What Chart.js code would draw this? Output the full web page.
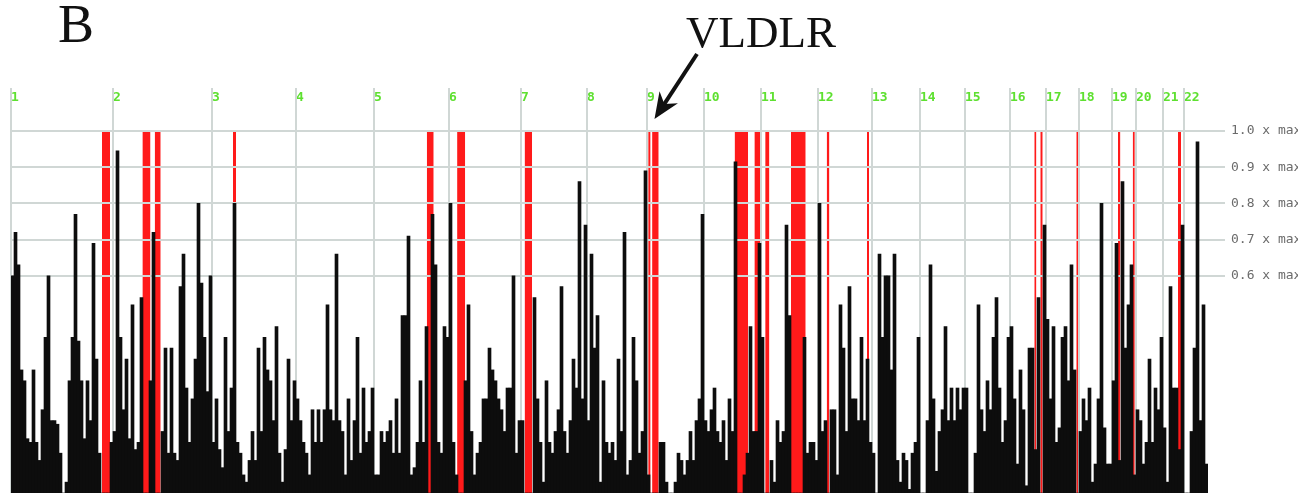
<!DOCTYPE html>
<html>
<head>
<meta charset="utf-8">
<title>Homozygosity scores - VLDLR</title>
<script src="https://cdn.jsdelivr.net/npm/chart.js@4.4.1/dist/chart.umd.min.js"></script>
<style>
  html, body { margin: 0; padding: 0; background: #fff; }
  #wrap { width: 1298px; height: 493px; overflow: hidden; }
</style>
</head>
<body>
<div id="wrap"><canvas id="chart" width="1298" height="493"></canvas></div>
<script>
// chromosome labels along the top
const chromNames = ['1', '2', '3', '4', '5', '6', '7', '8', '9', '10', '11',
  '12', '13', '14', '15', '16', '17', '18', '19', '20', '21', '22'];

// genome-wide score per marker bin, as a fraction of the maximum, one list per chromosome
const chr1 = [0.6, 0.72, 0.63, 0.34, 0.31, 0.15, 0.14, 0.34, 0.14, 0.09, 0.23, 0.43, 0.6, 0.2, 0.2, 0.19, 0.11, 0, 0.03, 0.31, 0.43, 0.77, 0.42, 0.31, 0.15, 0.31, 0.2, 0.69, 0.37, 0.11, 0, 0, 0, 0.14];
const chr2 = [0.17, 0.945, 0.43, 0.23, 0.37, 0.15, 0.52, 0.12, 0.14, 0.54, 0, 0, 0.31, 0.72, 0, 0, 0.17, 0.4, 0.11, 0.4, 0.11, 0.09, 0.57, 0.66, 0.29, 0.14, 0.26, 0.37, 0.8, 0.58, 0.43, 0.28, 0.6];
const chr3 = [0.14, 0.26, 0.12, 0.07, 0.43, 0.17, 0.29, 0.8, 0.14, 0.11, 0.05, 0.03, 0.09, 0.17, 0.09, 0.4, 0.17, 0.43, 0.34, 0.31, 0.2, 0.46, 0.11, 0.03, 0.12, 0.37, 0.2, 0.31];
const chr4 = [0.26, 0.2, 0.14, 0.11, 0.05, 0.23, 0.14, 0.23, 0.14, 0.23, 0.52, 0.23, 0.2, 0.66, 0.2, 0.17, 0.05, 0.26, 0.09, 0.2, 0.43, 0.11, 0.29, 0.14, 0.17, 0.29];
const chr5 = [0.05, 0.05, 0.17, 0.14, 0.17, 0.2, 0.11, 0.26, 0.11, 0.49, 0.49, 0.71, 0.05, 0.07, 0.14, 0.31, 0.14, 0.46, 0, 0.77, 0.63, 0.14, 0.11, 0.46, 0.43];
const chr6 = [0.8, 0.14, 0.05, 0, 0, 0.31, 0.52, 0.17, 0.05, 0.11, 0.14, 0.26, 0.26, 0.4, 0.34, 0.31, 0.26, 0.23, 0.17, 0.29, 0.29, 0.6, 0.11, 0.2];
const chr7 = [0.2, 0, 0, 0, 0.54, 0.26, 0.14, 0.03, 0.31, 0.14, 0.11, 0.17, 0.23, 0.57, 0.17, 0.11, 0.2, 0.37, 0.29, 0.86, 0.26, 0.74];
const chr8 = [0.2, 0.66, 0.4, 0.49, 0.03, 0.31, 0.14, 0.11, 0.14, 0.09, 0.37, 0.17, 0.72, 0.05, 0.09, 0.43, 0.31, 0.11, 0.17, 0.89];
const chr9 = [0.05, 0, 0, 0, 0.14, 0.14, 0.03, 0, 0, 0.03, 0.11, 0.09, 0.05, 0.09, 0.17, 0.09, 0.2, 0.26, 0.77];
const chr10 = [0.2, 0.17, 0.23, 0.29, 0.17, 0.14, 0.2, 0.09, 0.26, 0.17, 0.915, 0, 0, 0.05, 0.11, 0.46, 0.17, 0.17, 0.69];
const chr11 = [0.43, 0, 0, 0.09, 0.03, 0.2, 0.14, 0.17, 0.74, 0.49, 0, 0, 0, 0, 0.43, 0.11, 0.14, 0.14, 0.09];
const chr12 = [0.8, 0.17, 0.2, 0, 0.23, 0.23, 0.05, 0.52, 0.4, 0.17, 0.57, 0.26, 0.26, 0.2, 0.43, 0.2, 0.37, 0.14];
const chr13 = [0.11, 0, 0.66, 0.43, 0.6, 0.6, 0.34, 0.66, 0.09, 0.03, 0.11, 0.09, 0.01, 0.11, 0.14, 0.43];
const chr14 = [0, 0, 0.2, 0.63, 0.26, 0.06, 0.17, 0.23, 0.46, 0.2, 0.29, 0.2, 0.29, 0.23, 0.29];
const chr15 = [0.29, 0, 0, 0.11, 0.52, 0.23, 0.17, 0.31, 0.23, 0.43, 0.54, 0.29, 0.14, 0.2, 0.43];
const chr16 = [0.46, 0.26, 0.08, 0.34, 0.23, 0.02, 0.4, 0.4, 0.12, 0.54, 0, 0.74];
const chr17 = [0.48, 0.26, 0.46, 0.14, 0.18, 0.43, 0.46, 0.31, 0.63, 0.34, 0];
const chr18 = [0.17, 0.26, 0.2, 0.29, 0.03, 0.08, 0.26, 0.8, 0.18, 0.08, 0.08];
const chr19 = [0.31, 0.69, 0.09, 0.86, 0.4, 0.52, 0.63, 0.05];
const chr20 = [0.23, 0.2, 0.08, 0.14, 0.37, 0.14, 0.29, 0.23, 0.43];
const chr21 = [0.18, 0.03, 0.57, 0.29, 0.29, 0.12, 0.74];
const chr22 = [0, 0, 0.17, 0.4, 0.97, 0.2, 0.52, 0.08];

const chromValues = [chr1, chr2, chr3, chr4, chr5, chr6, chr7, chr8, chr9, chr10, chr11,
  chr12, chr13, chr14, chr15, chr16, chr17, chr18, chr19, chr20, chr21, chr22];

// regions reaching the maximum score: [chromosome, from bin, to bin]
const redRegions = [
  [1, 0, 0.35], [1, 30.3, 33.0],
  [2, 9.8, 12.5], [2, 13.9, 15.9],
  [3, 7.0, 8.0],
  [5, 17.6, 19.9],
  [6, 2.7, 5.4],
  [7, 1.2, 3.7],
  [9, 0.4, 1.2], [9, 1.7, 3.9],
  [10, 10.2, 14.7], [10, 16.8, 19.0],
  [11, 1.4, 2.8], [11, 10.0, 14.9],
  [12, 2.9, 3.8], [12, 16.3, 17.0],
  [16, 8.1, 8.8], [16, 10.1, 10.9],
  [17, 10.1, 11.0],
  [19, 2.0, 2.8], [19, 6.9, 7.6],
  [21, 5.0, 6.0]
];

const yTicks = [0.6, 0.7, 0.8, 0.9, 1.0];

// where the VLDLR arrow points
const vldlrChrom = 9;
const vldlrBin = 2.5;

// build the tables chart.js needs
const chromStart = [];
let pos = 0;
chromValues.forEach(vals => { chromStart.push(pos); pos += vals.length; });
const totalBins = pos;

const barData = [];
chromValues.forEach((vals, c) => {
  vals.forEach((v, i) => barData.push({ x: chromStart[c] + i + 0.5, y: v }));
});

const redData = [];
redRegions.forEach(([c, from, to]) => {
  const s = chromStart[c - 1];
  redData.push({ x: s + from, y: 1 }, { x: s + to, y: 1 }, { x: s + to, y: null });
});

const GRID = '#d0d7d5';
const GREEN = '#5ee030';

// grid lines show through the red blocks but stay behind the black bars
const gridOverRed = {
  id: 'gridOverRed',
  afterDatasetDraw(chart, args) {
    if (args.index !== 1) return;
    chart.scales.x.drawGrid(chart.chartArea);
    chart.scales.y.drawGrid(chart.chartArea);
  }
};

const annotations = {
  id: 'annotations',
  afterDraw(chart) {
    const ctx = chart.ctx;
    ctx.save();
    ctx.fillStyle = '#111';
    ctx.strokeStyle = '#111';
    ctx.textAlign = 'left';
    ctx.textBaseline = 'alphabetic';
    ctx.font = '54px "Liberation Serif", "Times New Roman", serif';
    ctx.fillText('B', 58, 42);
    ctx.font = '45px "Liberation Serif", "Times New Roman", serif';
    ctx.fillText('VLDLR', 686, 47);

    const tipX = chart.scales.x.getPixelForValue(chromStart[vldlrChrom - 1] + vldlrBin);
    const tipY = chart.scales.y.getPixelForValue(1) - 12;
    const sx = 697, sy = 54;
    const len = Math.hypot(tipX - sx, tipY - sy);
    const ux = (tipX - sx) / len, uy = (tipY - sy) / len;
    const nx = -uy, ny = ux;
    ctx.lineWidth = 4;
    ctx.beginPath();
    ctx.moveTo(sx, sy);
    ctx.lineTo(tipX - ux * 16, tipY - uy * 16);
    ctx.stroke();
    const bx = tipX - ux * 26, by = tipY - uy * 26;
    ctx.beginPath();
    ctx.moveTo(tipX, tipY);
    ctx.lineTo(bx + nx * 11, by + ny * 11);
    ctx.lineTo(tipX - ux * 18, tipY - uy * 18);
    ctx.lineTo(bx - nx * 11, by - ny * 11);
    ctx.closePath();
    ctx.fill();
    ctx.restore();
  }
};

new Chart(document.getElementById('chart'), {
  type: 'bar',
  data: {
    datasets: [
      {
        type: 'bar',
        label: 'score',
        data: barData,
        backgroundColor: '#0d0d0d',
        borderWidth: 0,
        barPercentage: 1,
        categoryPercentage: 1,
        order: 1
      },
      {
        type: 'line',
        label: 'maximum',
        data: redData,
        borderWidth: 0,
        borderColor: 'rgba(0,0,0,0)',
        backgroundColor: '#ff1a1a',
        fill: 'origin',
        pointRadius: 0,
        pointHitRadius: 0,
        spanGaps: false,
        tension: 0,
        order: 2
      }
    ]
  },
  options: {
    responsive: false,
    animation: false,
    events: [],
    layout: { padding: { top: 88, left: 11, right: 0, bottom: 0 } },
    plugins: {
      legend: { display: false },
      tooltip: { enabled: false }
    },
    scales: {
      x: {
        type: 'linear',
        position: 'top',
        min: 0,
        max: totalBins,
        offset: false,
        grid: { offset: false, color: GRID, lineWidth: 2, tickLength: 43, drawTicks: true },
        border: { display: false },
        afterBuildTicks: s => { s.ticks = chromStart.map(v => ({ value: v })); },
        afterFit: s => { s.height = 43; s.paddingLeft = 0; s.paddingRight = 0; },
        ticks: {
          autoSkip: false,
          maxRotation: 0,
          minRotation: 0,
          align: 'start',
          padding: -17,
          color: GREEN,
          font: { family: '"DejaVu Sans Mono", monospace', size: 13, weight: 'bold' },
          callback: (v, i) => chromNames[i]
        }
      },
      y: {
        position: 'right',
        min: 0,
        max: 1,
        grid: { color: GRID, lineWidth: 2, tickLength: 17 },
        border: { display: false },
        afterBuildTicks: s => { s.ticks = yTicks.map(v => ({ value: v })); },
        afterFit: s => { s.width = 90; s.paddingTop = 0; s.paddingBottom = 0; },
        ticks: {
          padding: 6,
          color: '#6b6b6b',
          font: { family: '"DejaVu Sans Mono", monospace', size: 13 },
          callback: v => v.toFixed(1) + ' x max'
        }
      }
    }
  },
  plugins: [gridOverRed, annotations]
});
</script>
</body>
</html>
